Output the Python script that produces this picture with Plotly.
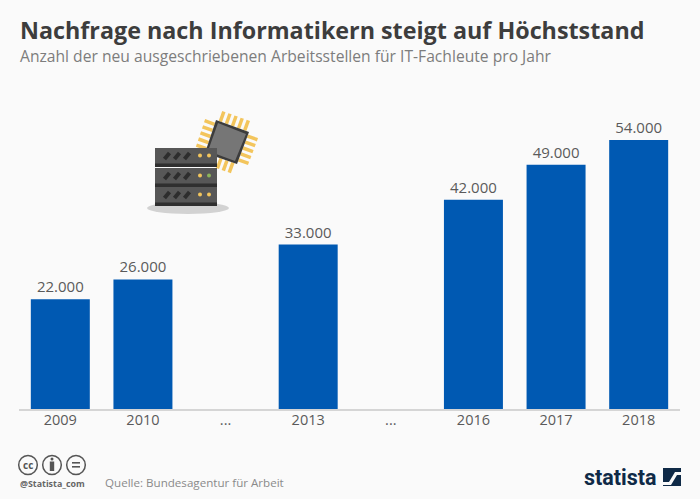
from plotly import graph_objects as go

# "..." slots stand for the skipped years
labels = ['2009', '2010', '...', '2013', '...', '2016', '2017', '2018']
values = [22000, 26000, None, 33000, None, 42000, 49000, 54000]
value_text = ['22.000', '26.000', '', '33.000', '', '42.000', '49.000', '54.000']

title = 'Nachfrage nach Informatikern steigt auf Höchststand'
subtitle = 'Anzahl der neu ausgeschriebenen Arbeitsstellen für IT-Fachleute pro Jahr'
source = 'Quelle: Bundesagentur für Arbeit'

W = 700
H = 499
FONT = 'Open Sans'


def fx(x):
	return x / W


def fy(y):
	return 1 - y / H


def poly(points, color):
	path = 'M ' + ' L '.join(f'{fx(x):.5f} {fy(y):.5f}' for x, y in points) + ' Z'
	return dict(type='path', xref='paper', yref='paper', path=path, fillcolor=color, line_width=0, layer='above')


def box(x0, y0, x1, y1, color):
	return dict(type='rect', xref='paper', yref='paper', x0=fx(x0), x1=fx(x1), y0=fy(y0), y1=fy(y1),
				fillcolor=color, line_width=0, layer='above')


def circle(x0, y0, x1, y1, color, line=None, width=0):
	return dict(type='circle', xref='paper', yref='paper', x0=fx(x0), x1=fx(x1), y0=fy(y0), y1=fy(y1),
				fillcolor=color, line=dict(color=line, width=width), layer='above')


def segment(x0, y0, x1, y1, color, width):
	return dict(type='line', xref='paper', yref='paper', x0=fx(x0), x1=fx(x1), y0=fy(y0), y1=fy(y1),
				line=dict(color=color, width=width), layer='above')


def note(x, y, text, size, color, anchor='left', family=FONT):
	return dict(xref='paper', yref='paper', x=fx(x), y=fy(y), text=text, showarrow=False, xanchor=anchor,
				yanchor='middle', font=dict(family=family, size=size, color=color))


shapes = []

# chip icon, pins first
A = (216, 120)
B = (249, 132)
C = (237, 164)
D = (205, 153)
for i in range(5):
	t = (i + 0.7) / 5.4
	ax, ay = A[0] + (B[0] - A[0]) * t, A[1] + (B[1] - A[1]) * t
	shapes.append(segment(ax, ay, ax + 3.6, ay - 10, '#f3c55c', 3.5))
	bx, by = D[0] + (C[0] - D[0]) * t, D[1] + (C[1] - D[1]) * t
	shapes.append(segment(bx, by, bx - 3.6, by + 10, '#f3c55c', 3.5))
	lx, ly = A[0] + (D[0] - A[0]) * t, A[1] + (D[1] - A[1]) * t
	shapes.append(segment(lx, ly, lx - 10, ly - 3.6, '#f3c55c', 3.5))
	rx, ry = B[0] + (C[0] - B[0]) * t, B[1] + (C[1] - B[1]) * t
	shapes.append(segment(rx, ry, rx + 10, ry + 3.6, '#f3c55c', 3.5))
shapes.append(poly([A, B, C, D], '#3c3c3c'))
shapes.append(poly([(218, 123), (246, 134), (235, 161), (208, 151)], '#767676'))

# server rack
shapes.append(circle(147, 202, 229, 214, '#d2d2d2'))
rows = [(148, '#f3c55c', '#f3c55c'), (168, '#f3c55c', '#8cb45a'), (187, '#f3c55c', '#f3c55c')]
for top, led1, led2 in rows:
	shapes.append(box(155, top, 217, top + 19, '#575757'))
	shapes.append(box(155, top + 15.5, 217, top + 19, '#2f2f2f'))
	for sx in (167, 177, 187):
		shapes.append(segment(sx - 2.5, top + 11, sx + 2.5, top + 5, '#2d2d2d', 4))
	shapes.append(circle(198, top + 5.5, 202, top + 9.5, led1))
	shapes.append(circle(207, top + 5.5, 211, top + 9.5, led2))

# cc badges
for cx in (28, 52, 76):
	shapes.append(circle(cx - 9.3, 455.5, cx + 9.3, 474.5, 'rgba(0,0,0,0)', '#555555', 1.5))
shapes.append(circle(50.5, 457.5, 53.5, 460.5, '#555555'))
shapes.append(box(49.8, 461.5, 54.2, 471, '#555555'))
shapes.append(box(72, 462, 80, 463.6, '#555555'))
shapes.append(box(72, 466, 80, 467.6, '#555555'))

# statista mark
shapes.append(box(663, 468, 681, 486, '#0f2a47'))
shapes.append(poly([(663, 482), (669, 482), (675, 472), (681, 472), (681, 475), (677, 475), (671, 485), (663, 485)], '#fafafa'))

annotations = [
	note(18, 30, f'<b>{title}</b>', 23.3, '#3d3d3d'),
	note(18, 56, subtitle, 15.65, '#7d7d7d'),
	note(28, 464.5, '<b>cc</b>', 10, '#555555', 'center'),
	note(18, 483, '<b>@Statista_com</b>', 8.9, '#666666'),
	note(102.5, 482, source, 11.6, '#8a8a8a'),
	note(659, 477, '<b>statista</b>', 21.5, '#0f2a47', 'right', 'Roboto'),
]

fig = go.Figure(go.Bar(
	x=list(range(len(labels))),
	y=values,
	text=value_text,
	textposition='outside',
	textfont=dict(family=FONT, size=15, color='#5a5a5a'),
	marker=dict(color='#0059b2', line_width=0),
	cliponaxis=False,
	hoverinfo='skip',
))

fig.update_layout(
	width=W,
	height=H,
	margin=dict(l=0, r=0, t=0, b=0),
	paper_bgcolor='#fafafa',
	plot_bgcolor='#fafafa',
	bargap=0.286,
	showlegend=False,
	font=dict(family=FONT),
	shapes=shapes,
	annotations=annotations,
	xaxis=dict(
		domain=[fx(19), fx(680)],
		range=[-0.5, 7.5],
		tickmode='array',
		tickvals=list(range(len(labels))),
		ticktext=labels,
		tickfont=dict(family=FONT, size=14.5, color='#5a5a5a'),
		ticklabelstandoff=-3,
		ticks='',
		showgrid=False,
		zeroline=False,
		showline=True,
		linecolor='#d5d5d5',
		linewidth=1.5,
	),
	yaxis=dict(
		domain=[fy(409), fy(110)],
		range=[0, 60000],
		visible=False,
		showgrid=False,
	),
)

# the page's default body margin would push the chart 8px in
fig.write_html(
	"out.html",
	config=dict(displayModeBar=False),
	post_script="document.body.style.margin='0';document.body.style.overflow='hidden';document.body.style.background='#fafafa';",
)
